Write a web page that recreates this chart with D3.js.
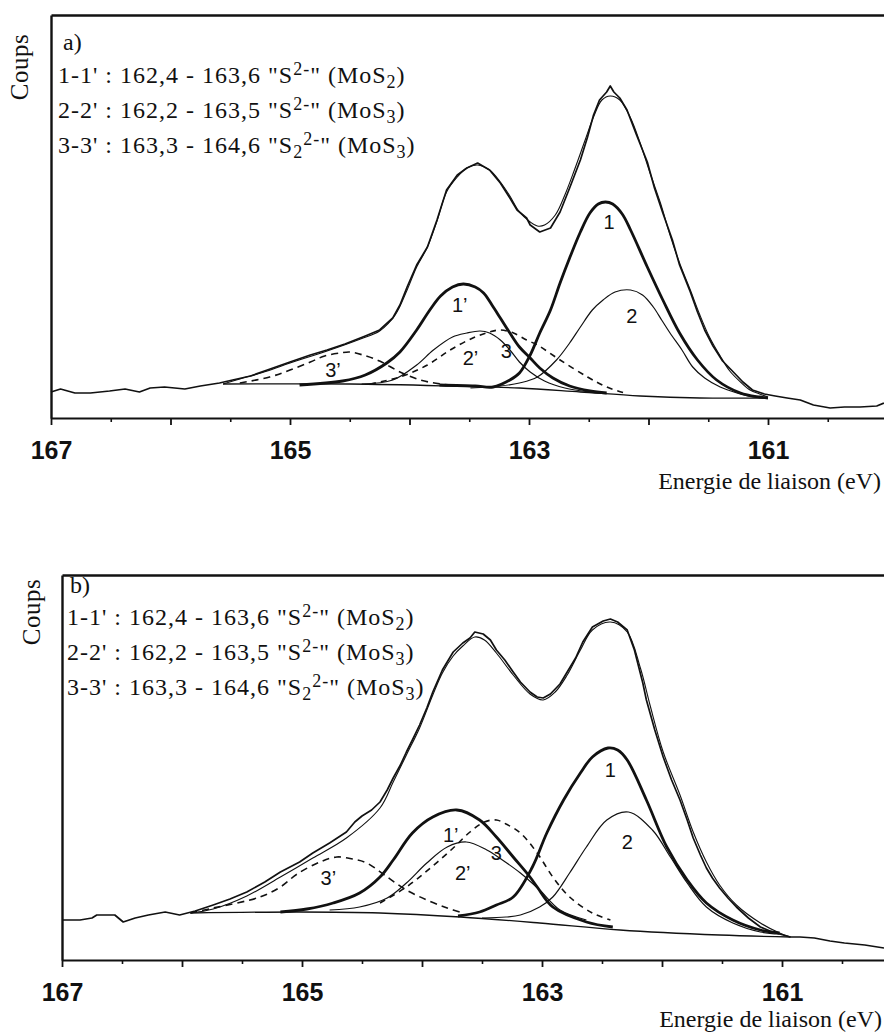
<!DOCTYPE html>
<html>
<head>
<meta charset="utf-8">
<script src="https://cdn.jsdelivr.net/npm/d3@7"></script>
<style>
  body { margin: 0; background: #fff; }
  svg { display: block; }
  .tick text { font-family: "Liberation Sans", Arial, sans-serif; font-weight: bold; font-size: 25px; fill: #111; }
  .legend { font-family: "Liberation Serif", "Times New Roman", serif; font-size: 24px; letter-spacing: 1px; fill: #111; }
  .peak-label { font-family: "Liberation Sans", Arial, sans-serif; font-size: 20px; fill: #111; }
</style>
</head>
<body>
<script>
// axis values
const eDomain = [167, 160];
const majorTicks = [167, 166, 165, 164, 163, 162, 161, 160];
const minorTicks = [166.5, 165.5, 164.5, 163.5, 162.5, 161.5, 160.5];
const labelledTicks = [167, 165, 163, 161];
const xTitle = "Energie de liaison (eV)";
const yTitle = "Coups";

// legend lines: [text, kind] where kind is "", "sup" or "sub"
const legendLines = [
  [["1-1' : 162,4 - 163,6 \"S", ""], ["2-", "sup"], ["\" (MoS", ""], ["2", "sub"], [")", ""]],
  [["2-2' : 162,2 - 163,5 \"S", ""], ["2-", "sup"], ["\" (MoS", ""], ["3", "sub"], [")", ""]],
  [["3-3' : 163,3 - 164,6 \"S", ""], ["2", "sub"], ["2-", "sup"], ["\" (MoS", ""], ["3", "sub"], [")", ""]]
];

// ---- panel a) : [binding energy eV, counts]
const specA = [[167.00,26],[166.92,29],[166.80,25],[166.67,25],[166.51,27],[166.38,29],[166.26,26],[166.17,30],
  [166.05,31],[165.88,29],[165.75,32],[165.59,35],[165.48,38],[165.33,42],[165.19,48],[165.00,56],[164.83,63],
  [164.69,68],[164.54,74],[164.37,82],[164.25,88],[164.14,100],[164.08,113],[164.02,131],[163.94,153],[163.85,171],
  [163.77,198],[163.69,228],[163.60,243],[163.52,250],[163.43,255],[163.33,248],[163.24,235],[163.16,220],[163.10,208],
  [163.02,200],[162.99,193],[162.91,186],[162.82,190],[162.74,206],[162.66,230],[162.57,258],[162.51,281],[162.46,303],
  [162.41,318],[162.35,326],[162.32,332],[162.29,326],[162.24,320],[162.18,308],[162.10,283],[162.01,256],[161.95,230],
  [161.88,205],[161.80,178],[161.74,153],[161.65,126],[161.59,106],[161.53,88],[161.46,72],[161.38,57],[161.29,46],
  [161.21,36],[161.13,28],[161.03,24],[160.94,22],[160.84,20],[160.73,18],[160.62,13],[160.48,10],[160.36,11],
  [160.23,11],[160.09,12],[160.03,15]];
const fitA = [[165.56,34],[165.42,39],[165.19,47],[165.00,55],[164.69,67],[164.41,79],[164.25,87],[164.12,103],
  [164.02,128],[163.94,151],[163.85,171],[163.77,197],[163.69,226],[163.60,241],[163.52,250],[163.43,253],[163.33,248],
  [163.24,236],[163.16,222],[163.08,206],[162.99,196],[162.93,192],[162.87,193],[162.78,203],[162.70,223],[162.62,248],
  [162.53,278],[162.46,301],[162.39,318],[162.32,322],[162.24,318],[162.15,300],[162.07,275],[161.99,246],[161.90,215],
  [161.82,183],[161.74,155],[161.65,128],[161.57,103],[161.49,81],[161.40,62],[161.32,47],[161.23,36],[161.15,28],
  [161.07,24],[161.00,21]];
const bgA = [[165.56,34],[164.50,34],[163.66,32],[163.08,30],[162.57,26],[162.07,22],[161.57,20],[161.00,20]];
const p1A = [[163.75,33],[163.45,32],[163.30,31],[163.16,38],[163.08,45],[162.99,63],[162.91,85],[162.82,108],
  [162.74,135],[162.66,160],[162.57,186],[162.49,205],[162.42,214],[162.36,216],[162.30,214],[162.22,204],[162.15,188],
  [162.01,151],[161.88,118],[161.74,85],[161.59,58],[161.43,38],[161.23,25],[161.07,21],[161.00,20]];
const p2A = [[163.49,30],[163.24,32],[163.08,35],[162.93,41],[162.77,58],[162.66,75],[162.57,91],[162.47,108],
  [162.38,118],[162.28,126],[162.15,128],[162.05,123],[161.96,111],[161.89,98],[161.82,85],[161.72,68],[161.63,51],
  [161.53,40],[161.40,31],[161.26,25],[161.13,21],[161.00,20]];
const p1pA = [[164.92,33],[164.56,37],[164.37,43],[164.19,55],[164.08,66],[163.94,88],[163.83,108],[163.74,122],
  [163.64,131],[163.55,134],[163.45,131],[163.38,125],[163.31,113],[163.24,100],[163.16,85],[163.08,71],[162.99,60],
  [162.91,50],[162.80,40],[162.66,32],[162.49,27],[162.35,25]];
const p2pA = [[164.40,34],[164.14,38],[163.94,53],[163.80,68],[163.64,81],[163.52,85],[163.41,87],[163.33,85],
  [163.24,78],[163.16,68],[163.08,56],[162.99,46],[162.87,37],[162.70,30],[162.49,26]];
const p3A = [[164.33,34],[164.08,41],[163.85,53],[163.66,68],[163.47,80],[163.33,86],[163.24,88],[163.13,85],
  [163.02,78],[162.93,73],[162.74,58],[162.51,41],[162.35,31],[162.20,25]];
const p3pA = [[165.42,35],[165.17,41],[165.00,48],[164.83,56],[164.71,62],[164.58,65],[164.50,66],[164.39,63],
  [164.25,57],[164.08,46],[163.91,38],[163.74,34],[163.58,32]];

// ---- panel b)
const specB = [[167.00,40],[166.85,40],[166.75,42],[166.71,45],[166.56,45],[166.49,38],[166.39,42],[166.28,45],
  [166.14,48],[166.02,45],[165.89,49],[165.74,55],[165.60,61],[165.46,68],[165.31,78],[165.18,88],[165.02,98],
  [164.91,107],[164.77,117],[164.63,128],[164.56,138],[164.50,144],[164.42,150],[164.35,158],[164.29,170],[164.24,182],
  [164.18,195],[164.13,208],[164.08,220],[164.02,235],[163.96,252],[163.91,268],[163.83,290],[163.74,308],[163.66,317],
  [163.60,322],[163.56,328],[163.49,326],[163.43,320],[163.38,310],[163.31,300],[163.24,288],[163.18,278],[163.10,268],
  [163.04,263],[162.99,262],[162.93,266],[162.85,276],[162.79,288],[162.72,302],[162.66,318],[162.58,333],[162.49,339],
  [162.43,341],[162.37,338],[162.29,330],[162.23,310],[162.16,277],[162.13,260],[162.06,230],[161.99,203],[161.92,180],
  [161.85,160],[161.79,140],[161.74,122],[161.68,105],[161.63,92],[161.58,82],[161.52,72],[161.45,62],[161.38,53],
  [161.28,42],[161.18,33],[161.10,29],[161.02,26],[160.93,23],[160.85,23],[160.73,22],[160.60,19],[160.48,17],
  [160.31,15],[160.15,12]];
const fitB = [[165.93,47],[165.74,51],[165.46,64],[165.18,83],[164.91,102],[164.63,122],[164.35,152],[164.24,178],
  [164.13,205],[164.02,232],[163.91,265],[163.83,287],[163.74,304],[163.66,314],[163.56,323],[163.48,320],[163.38,307],
  [163.24,285],[163.10,266],[162.99,260],[162.89,268],[162.79,285],[162.68,310],[162.58,330],[162.43,338],[162.29,328],
  [162.18,292],[162.10,255],[161.99,208],[161.85,165],[161.74,128],[161.63,98],[161.52,75],[161.38,55],[161.18,37],
  [161.02,27],[160.93,23]];
const bgB = [[165.93,47],[165.02,48],[164.35,47],[163.68,43],[163.02,37],[162.35,30],[161.52,25],[160.93,23]];
const p1B = [[163.70,44],[163.52,48],[163.38,55],[163.24,63],[163.08,93],[162.96,127],[162.82,160],[162.68,187],
  [162.58,203],[162.45,212],[162.37,210],[162.29,200],[162.13,160],[161.96,113],[161.79,80],[161.63,57],[161.41,40],
  [161.18,30],[161.02,27]];
const p2B = [[163.50,42],[163.30,43],[163.18,45],[163.02,53],[162.91,63],[162.77,87],[162.63,113],[162.46,140],
  [162.28,148],[162.08,130],[161.93,103],[161.79,77],[161.63,53],[161.41,37],[161.18,28],[161.02,26]];
const p1pB = [[165.18,48],[164.96,51],[164.74,57],[164.52,67],[164.35,83],[164.24,100],[164.08,127],[163.91,143],
  [163.71,150],[163.52,140],[163.38,123],[163.24,103],[163.10,83],[163.04,73],[162.91,53],[162.63,38],[162.41,33]];
const p2pB = [[164.77,50],[164.52,53],[164.29,62],[164.13,77],[163.96,97],[163.79,113],[163.63,118],[163.46,110],
  [163.33,100],[163.18,87],[163.02,70],[162.85,50],[162.63,40]];
const p3B = [[164.35,57],[164.13,73],[163.93,92],[163.74,112],[163.60,128],[163.48,138],[163.38,140],[163.30,136],
  [163.18,127],[163.04,107],[162.91,83],[162.77,63],[162.58,47],[162.43,40]];
const p3pB = [[165.93,47],[165.74,52],[165.35,63],[165.18,73],[165.04,86],[164.85,98],[164.71,103],[164.58,101],
  [164.46,97],[164.29,83],[164.13,70],[163.96,60],[163.79,52],[163.66,47]];

// peak labels: [text, energy, counts]
const labelsA = [["1",162.33,196],["2",162.14,102],["1\u2019",163.58,113],["2\u2019",163.49,60],["3",163.19,67],["3\u2019",164.64,48]];
const labelsB = [["1",162.43,190],["2",162.29,118],["1\u2019",163.76,125],["2\u2019",163.66,87],["3",163.38,107],["3\u2019",164.78,82]];

const W = 884, H = 1033;
const svg = d3.select("body").append("svg").attr("width", W).attr("height", H);

const panels = [
  { tag: "a)", x0: 51, pxEv: 119.5, axisY: 418, top: 15, spec: specA, fit: fitA, bg: bgA,
    p1: p1A, p2: p2A, p1p: p1pA, p2p: p2pA, p3: p3A, p3p: p3pA, labels: labelsA,
    tagPos: [63, 50], legendPos: [58, 83], coupsPos: [28, 67], titleEnd: [881, 489] },
  { tag: "b)", x0: 62, pxEv: 120, axisY: 960, top: 575, spec: specB, fit: fitB, bg: bgB,
    p1: p1B, p2: p2B, p1p: p1pB, p2p: p2pB, p3: p3B, p3p: p3pB, labels: labelsB,
    tagPos: [70, 593], legendPos: [67, 625], coupsPos: [40, 612], titleEnd: [882, 1027] }
];

panels.forEach(p => {
  const x = d3.scaleLinear().domain(eDomain).range([p.x0, p.x0 + 7 * p.pxEv]);
  const y = d3.scaleLinear().domain([0, p.axisY - p.top]).range([p.axisY, p.top]);
  const g = svg.append("g");

  // frame: left and top lines
  g.append("g").attr("transform", `translate(${p.x0},0)`)
    .call(d3.axisLeft(y).tickValues([]).tickSizeOuter(0))
    .select(".domain").attr("stroke", "#111").attr("stroke-width", 2.4);
  g.append("g").attr("transform", `translate(0,${p.top})`)
    .call(d3.axisTop(x).tickValues([]).tickSizeOuter(0))
    .select(".domain").attr("stroke", "#111").attr("stroke-width", 2.4);

  // bottom axis
  const ax = g.append("g").attr("transform", `translate(0,${p.axisY})`)
    .call(d3.axisBottom(x).tickValues(majorTicks).tickSize(7).tickSizeOuter(0)
      .tickFormat(d => labelledTicks.includes(d) ? d : ""));
  ax.select(".domain").attr("stroke", "#111").attr("stroke-width", 2.2);
  ax.selectAll(".tick line").attr("stroke", "#111").attr("stroke-width", 1.8);
  ax.selectAll(".tick text").attr("y", 41).attr("dy", 0);
  const mx = g.append("g").attr("transform", `translate(0,${p.axisY})`)
    .call(d3.axisBottom(x).tickValues(minorTicks).tickSize(4).tickFormat(""));
  mx.select(".domain").remove();
  mx.selectAll(".tick line").attr("stroke", "#111").attr("stroke-width", 1.6);

  const smooth = d3.line().x(d => x(d[0])).y(d => y(d[1])).curve(d3.curveCatmullRom.alpha(0.5));
  const raw = d3.line().x(d => x(d[0])).y(d => y(d[1]));

  const curves = [
    { d: p.bg, gen: smooth, w: 1.3 },
    { d: p.p3p, gen: smooth, w: 1.6, dash: "7,5" },
    { d: p.p3, gen: smooth, w: 1.6, dash: "6,5" },
    { d: p.p2p, gen: smooth, w: 1.2 },
    { d: p.p2, gen: smooth, w: 1.2 },
    { d: p.p1p, gen: smooth, w: 2.8 },
    { d: p.p1, gen: smooth, w: 2.8 },
    { d: p.fit, gen: smooth, w: 1.1 },
    { d: p.spec, gen: raw, w: 1.7 }
  ];
  curves.forEach(c => {
    g.append("path").datum(c.d)
      .attr("d", c.gen)
      .attr("fill", "none")
      .attr("stroke", "#111")
      .attr("stroke-width", c.w)
      .attr("stroke-linejoin", "round")
      .attr("stroke-dasharray", c.dash || null);
  });

  g.selectAll(".peak-label").data(p.labels).enter().append("text")
    .attr("class", "peak-label")
    .attr("x", d => x(d[1])).attr("y", d => y(d[2]))
    .attr("text-anchor", "middle").attr("dominant-baseline", "central")
    .text(d => d[0]);

  // titles
  g.append("text").attr("class", "legend")
    .attr("transform", `translate(${p.coupsPos[0]},${p.coupsPos[1]}) rotate(-90)`)
    .attr("text-anchor", "middle").style("font-size", "25px").style("letter-spacing", "0.5px")
    .text(yTitle);
  g.append("text").attr("class", "legend")
    .attr("x", p.titleEnd[0]).attr("y", p.titleEnd[1])
    .attr("text-anchor", "end").style("letter-spacing", "0px")
    .text(xTitle);

  g.append("text").attr("class", "legend")
    .attr("x", p.tagPos[0]).attr("y", p.tagPos[1]).style("letter-spacing", "0px")
    .text(p.tag);

  legendLines.forEach((line, i) => {
    const t = g.append("text").attr("class", "legend")
      .attr("x", p.legendPos[0]).attr("y", p.legendPos[1] + i * 35);
    let shift = 0;
    line.forEach(([s, kind]) => {
      const target = kind === "sup" ? -8 : kind === "sub" ? 5 : 0;
      t.append("tspan")
        .attr("dy", target - shift)
        .style("font-size", kind ? "18px" : null)
        .text(s);
      shift = target;
    });
  });
});
</script>
</body>
</html>
